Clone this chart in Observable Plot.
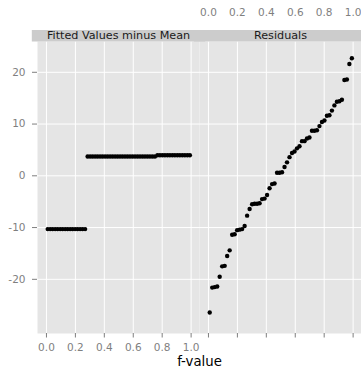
<!DOCTYPE html>
<html>
<head>
<meta charset="utf-8">
<script src="https://cdn.jsdelivr.net/npm/d3@7"></script>
<script src="https://cdn.jsdelivr.net/npm/@observablehq/plot@0.6"></script>
<style>
  html, body { margin: 0; padding: 0; background: white; }
</style>
</head>
<body>
<div id="chart"></div>
<script>
const panels = ["Fitted Values minus Mean", "Residuals"];
const xTicks = [0, 0.2, 0.4, 0.6, 0.8, 1.0];
const xTickLabels = ["0.0", "0.2", "0.4", "0.6", "0.8", "1.0"];
const yTicks = [-20, -10, 0, 10, 20];
const yTickLabels = ["-20", "-10", "0", "10", "20"];
const xLabel = "f-value";

// fitted values minus mean: group levels and group sizes (sorted)
const fittedLevels = [-10.3, 3.73, 3.98];
const fittedCounts = [16, 28, 14];

// sorted residuals
const residuals = [-26.4, -21.6, -21.5, -21.4, -19.5, -17.5, -17.4, -15.5, -14.4, -11.4,
  -11.3, -10.5, -10.4, -10.3, -9.7, -7.7, -6.4, -5.5, -5.4, -5.4,
  -5.3, -4.5, -4.4, -3.7, -2.4, -1.6, -1.5, 0.6, 0.6, 0.7,
  1.7, 2.6, 3.6, 4.4, 4.7, 5.3, 5.7, 6.7, 6.7, 7.2,
  7.4, 8.7, 8.7, 8.8, 9.6, 10.4, 10.7, 11.6, 11.7, 12.6,
  13.6, 14.3, 14.4, 14.7, 18.5, 18.6, 21.6, 22.7];

const fitted = fittedLevels.flatMap((v, k) => Array(fittedCounts[k]).fill(v));
const n = residuals.length;
const rows = [
  ...fitted.map((v, i) => ({panel: panels[0], f: (i + 0.5) / n, value: v})),
  ...residuals.map((v, i) => ({panel: panels[1], f: (i + 0.5) / n, value: v}))
];

const grey = "#7f7f7f";

const chart = Plot.plot({
  width: 361,
  height: 375,
  marginLeft: 37,
  marginRight: 0,
  marginTop: 41,
  marginBottom: 42,
  style: {fontFamily: "DejaVu Sans", fontSize: "10.5px", background: "white", overflow: "visible"},
  x: {domain: [-0.062, 1.058], axis: null},
  y: {domain: [-30.47, 25.95], axis: null},
  fx: {domain: panels, padding: 0, axis: null},
  marks: [
    Plot.frame({fill: "#e5e5e5"}),
    Plot.gridX(xTicks, {stroke: "white", strokeOpacity: 1, strokeWidth: 1}),
    Plot.gridY(yTicks, {stroke: "white", strokeOpacity: 1, strokeWidth: 1}),
    // strips
    Plot.frame({anchor: "top", stroke: "#cccccc", strokeOpacity: 1, strokeWidth: 11.4, dy: -5.7}),
    Plot.text(panels, {fx: d => d, text: d => d, frameAnchor: "top", dy: -6.5, lineAnchor: "middle", fontSize: 11.2, fill: "#1a1a1a"}),
    // y axis
    Plot.axisY(yTicks, {anchor: "left", tickSize: 5, tickPadding: 7, tickFormat: (d) => yTickLabels[yTicks.indexOf(d)], color: grey, fontSize: 10.5, label: null}),
    // bottom ticks in both panels
    Plot.axisX(xTicks, {anchor: "bottom", tickSize: 4.5, tickFormat: () => "", color: grey, label: null}),
    // bottom tick labels only under the left panel
    Plot.text(xTicks, {x: d => d, fx: () => panels[0], text: (d, i) => xTickLabels[i], frameAnchor: "bottom", dy: 14, lineAnchor: "middle", fill: grey, fontSize: 10.5}),
    // top tick labels only above the right panel
    Plot.text(xTicks, {x: d => d, fx: () => panels[1], text: (d, i) => xTickLabels[i], frameAnchor: "top", dy: -29, lineAnchor: "middle", fill: grey, fontSize: 10.5}),
    // axis title
    Plot.text([xLabel], {text: d => d, frameAnchor: "bottom", facet: "super", dy: 28.5, lineAnchor: "middle", fill: "black", fontSize: 13.3}),
    // points
    Plot.dot(rows, {x: "f", y: "value", fx: "panel", r: 2.2, fill: "black", stroke: "none"})
  ]
});
document.getElementById("chart").appendChild(chart);
</script>
</body>
</html>
